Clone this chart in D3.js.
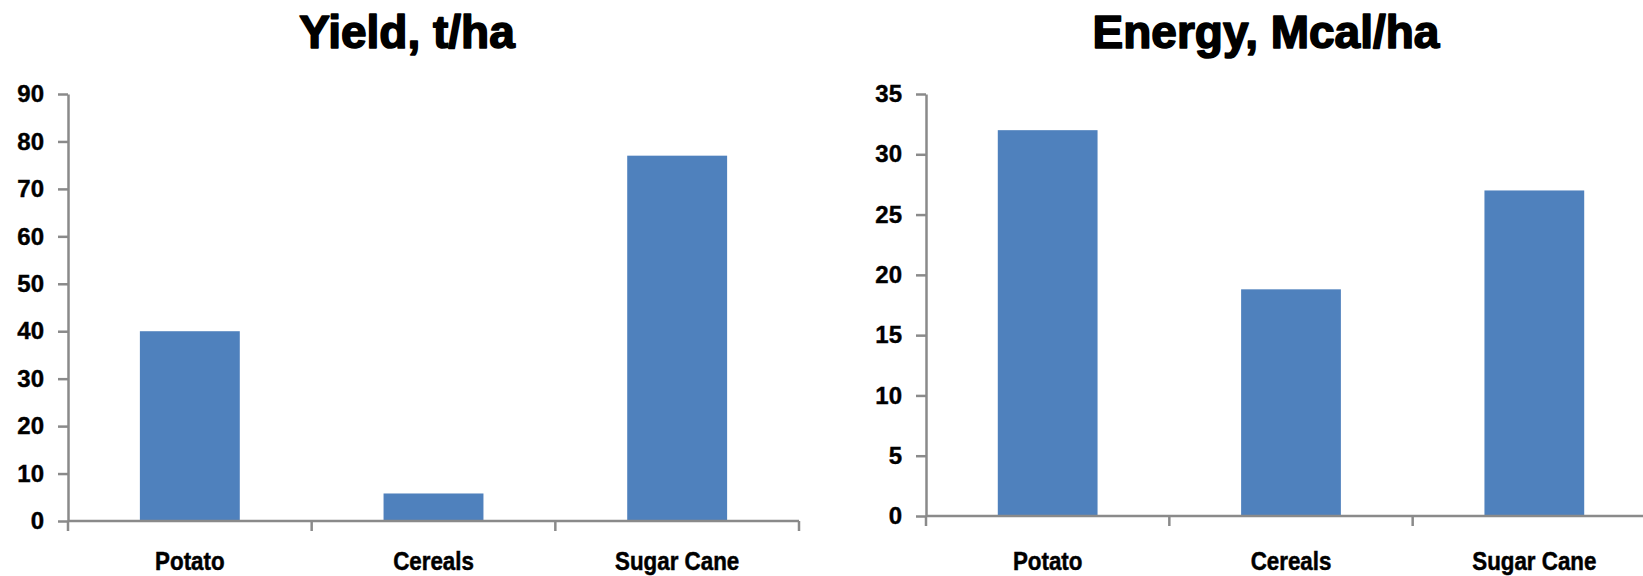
<!DOCTYPE html>
<html>
<head>
<meta charset="utf-8">
<script src="https://cdn.jsdelivr.net/npm/d3@7/dist/d3.min.js"></script>
<style>
  html, body { margin: 0; padding: 0; background: #ffffff; }
  svg { display: block; }
</style>
</head>
<body>
<svg id="chart" width="1643" height="576"></svg>
<script>
const categories = ["Potato", "Cereals", "Sugar Cane"];
const yieldValues = [40, 5.8, 77];
const energyValues = [32, 18.8, 27];
const yieldTicks = [0, 10, 20, 30, 40, 50, 60, 70, 80, 90];
const energyTicks = [0, 5, 10, 15, 20, 25, 30, 35];
const titles = ["Yield, t/ha", "Energy, Mcal/ha"];

const svg = d3.select("#chart");
const barColor = "#4F81BD";
const axisColor = "#8a8a8a";
const font = "'Liberation Sans', Arial, sans-serif";

function drawPanel(cfg) {
  const g = svg.append("g");
  const x = d3.scaleBand()
    .domain(categories)
    .range([cfg.left, cfg.right])
    .paddingInner(0.59)
    .paddingOuter(0.295);
  const y = d3.scaleLinear()
    .domain([0, d3.max(cfg.ticks)])
    .range([cfg.bottom, cfg.top]);

  // title
  g.append("text")
    .attr("transform", `translate(${cfg.titleX},48)`)
    .attr("text-anchor", "middle")
    .attr("font-family", font)
    .attr("font-weight", "bold")
    .attr("font-size", 46)
    .attr("fill", "#000")
    .attr("stroke", "#000")
    .attr("stroke-width", 1.6)
    .attr("stroke-linejoin", "round")
    .text(cfg.title);

  // bars
  g.selectAll("rect.bar")
    .data(cfg.values)
    .enter().append("rect")
    .attr("class", "bar")
    .attr("x", (d, i) => x(categories[i]))
    .attr("width", x.bandwidth())
    .attr("y", d => y(d))
    .attr("height", d => y(0) - y(d))
    .attr("fill", barColor);

  // y axis
  const yAxis = d3.axisLeft(y)
    .tickValues(cfg.ticks)
    .tickSize(10)
    .tickSizeOuter(0)
    .tickPadding(14)
    .tickFormat(d3.format("d"));
  const ya = g.append("g")
    .attr("transform", `translate(${cfg.left},0)`)
    .call(yAxis);
  ya.select(".domain").attr("stroke", axisColor).attr("stroke-width", 2.5);
  ya.selectAll(".tick line").attr("stroke", axisColor).attr("stroke-width", 2.5);
  ya.selectAll(".tick text")
    .attr("font-family", font)
    .attr("font-weight", "bold")
    .attr("font-size", 24)
    .attr("fill", "#000")
    .attr("stroke", "#000")
    .attr("stroke-width", 0.4);

  // x axis line
  const step = x.step();
  g.append("line")
    .attr("x1", cfg.left).attr("x2", cfg.right)
    .attr("y1", y(0)).attr("y2", y(0))
    .attr("stroke", axisColor).attr("stroke-width", 2.5);
  // boundary ticks
  const bounds = d3.range(categories.length + 1).map(i => cfg.left + i * step);
  g.selectAll("line.xtick")
    .data(bounds)
    .enter().append("line")
    .attr("class", "xtick")
    .attr("x1", d => d).attr("x2", d => d)
    .attr("y1", y(0)).attr("y2", y(0) + 10)
    .attr("stroke", axisColor).attr("stroke-width", 2.5);
  // category labels
  g.selectAll("text.cat")
    .data(categories)
    .enter().append("text")
    .attr("class", "cat")
    .attr("transform", d => `translate(${x(d) + x.bandwidth() / 2},570) scale(0.86,1)`)
    .attr("text-anchor", "middle")
    .attr("font-family", font)
    .attr("font-weight", "bold")
    .attr("font-size", 26)
    .attr("fill", "#000")
    .attr("stroke", "#000")
    .attr("stroke-width", 0.5)
    .text(d => d);
}

drawPanel({
  title: titles[0], values: yieldValues, ticks: yieldTicks,
  left: 68, right: 799, top: 94, bottom: 521, titleX: 407
});
drawPanel({
  title: titles[1], values: energyValues, ticks: energyTicks,
  left: 926, right: 1656, top: 94, bottom: 516, titleX: 1266
});
</script>
</body>
</html>
